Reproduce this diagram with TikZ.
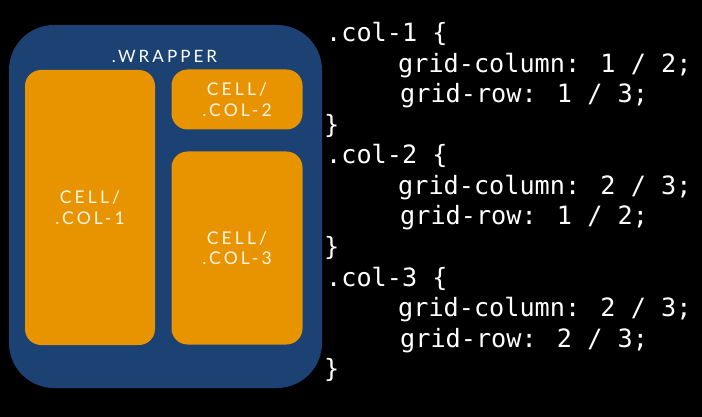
\documentclass[tikz,border=0pt]{standalone}
\usepackage{fontspec}
\setmainfont{Lato}
\newfontfamily\codefont{DejaVu Sans Mono}
\newfontfamily\labelfont[LetterSpace=18]{Lato}
\definecolor{wrapblue}{HTML}{1B4272}
\definecolor{cellorange}{HTML}{E89400}
\definecolor{labeltext}{HTML}{FFF6E6}
\begin{document}
\begin{tikzpicture}[x=1pt,y=-1pt,
  wrapbox/.style={fill=wrapblue, draw=none, rounded corners=45pt, minimum width=313pt, minimum height=363pt, inner sep=0pt},
  cellbox/.style={fill=cellorange, draw=none, rounded corners=16pt, inner sep=0pt, align=center,
    text=labeltext, font=\labelfont\fontsize{17.5}{20.5}\selectfont},
  codeline/.style={anchor=base west, inner sep=0pt, text=white, font=\codefont\fontsize{25.2}{30}\selectfont}]
\useasboundingbox (0,0) rectangle (702,417);
\fill[black] (0,0) rectangle (702,417);
\node[wrapbox] (wrapper) at (165.5,206.5) {};
\node[inner sep=0pt, text=white, font=\labelfont\fontsize{17}{20}\selectfont] (wraplabel) at (164.5,56.5) {.WRAPPER};
\node[cellbox, minimum width=130pt, minimum height=275pt] (col1) at (90,207.5) {CELL/\\.COL-1};
\node[cellbox, minimum width=131pt, minimum height=60pt] (col2) at (237,99.5) {CELL/\\.COL-2};
\node[cellbox, minimum width=131pt, minimum height=193pt] (col3) at (237,248) {CELL/\\.COL-3};
\node[codeline] (l1) at (326,42) {.col-1 \{};
\node[codeline] (l2) at (398,72.5) {grid-column: 1 / 2;};
\node[codeline] (l3) at (400,103) {grid-row: 1 / 3;};
\node[codeline] (l4) at (324,133.5) {\}};
\node[codeline] (l5) at (326,164) {.col-2 \{};
\node[codeline] (l6) at (398,194.5) {grid-column: 2 / 3;};
\node[codeline] (l7) at (400,225) {grid-row: 1 / 2;};
\node[codeline] (l8) at (324,255.5) {\}};
\node[codeline] (l9) at (326,286) {.col-3 \{};
\node[codeline] (l10) at (398,316.5) {grid-column: 2 / 3;};
\node[codeline] (l11) at (400,347) {grid-row: 2 / 3;};
\node[codeline] (l12) at (324,377.5) {\}};
\end{tikzpicture}
\end{document}
